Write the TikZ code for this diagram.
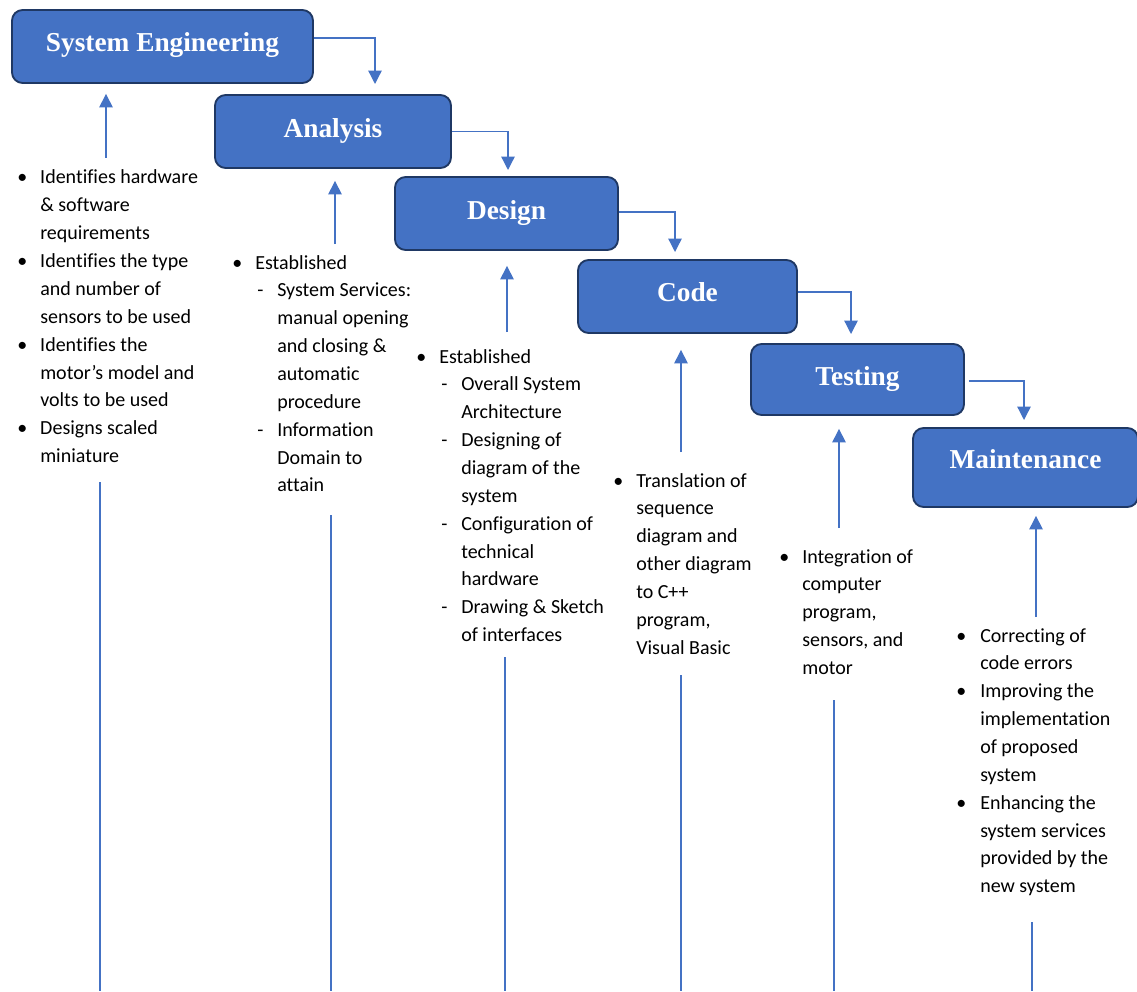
\documentclass[tikz,border=0pt]{standalone}
\usepackage{fontspec}
\setmainfont{Carlito}[Ligatures=NoCommon]
\newfontfamily\titlefont{Liberation Serif}
\usetikzlibrary{arrows.meta}
\definecolor{boxfill}{HTML}{4472C4}
\definecolor{boxline}{HTML}{1F3864}
\definecolor{arrowblue}{HTML}{4472C4}
\tikzset{
  phase/.style={draw=boxline, fill=boxfill, line width=1.4pt, rounded corners=8pt,
    text=white, font=\titlefont\bfseries\fontsize{20.5pt}{24pt}\selectfont,
    inner sep=0pt, text height=14pt, text depth=4pt},
  flow/.style={draw=arrowblue, line width=1pt, -{Triangle[width=10pt,length=10pt]}},
  trail/.style={draw=arrowblue, line width=0.8pt},
  notes/.style={anchor=base west, inner sep=0pt, text=black,
    font=\fontsize{15pt}{20.9pt}\selectfont},
}
\begin{document}
\begin{tikzpicture}[x=0.75pt,y=-0.75pt]
\useasboundingbox (0,0) rectangle (1137,991);

% phase boxes
\node[phase, minimum width=225.75pt, minimum height=54.75pt] (se) at (162.5,46.5) {\raisebox{1.2pt}{System Engineering}};
\node[phase, minimum width=177pt,    minimum height=54.75pt] (an) at (333,131.5) {\raisebox{0.8pt}{Analysis}};
\node[phase, minimum width=167.25pt, minimum height=54.75pt] (de) at (506.5,213.5) {\raisebox{0.8pt}{Design}};
\node[phase, minimum width=164.25pt, minimum height=54.75pt] (co) at (687.5,296.5) {\raisebox{1.5pt}{Code}};
\node[phase, minimum width=159.75pt, minimum height=53.25pt] (te) at (857.5,379.5) {\raisebox{0.8pt}{Testing}};
\node[phase, minimum width=168.75pt, minimum height=59.25pt] (ma) at (1025.5,467.5) {\raisebox{4.5pt}{Maintenance}};

% step connectors
\coordinate (anIn) at (375,84);
\coordinate (deIn) at (508,170);
\coordinate (coIn) at (675,252);
\coordinate (teIn) at (851,334);
\coordinate (maIn) at (1024,420);
\draw[flow] ([yshift=6.4pt]se.east) -| (anIn);
\draw[flow] (an.east) -| (deIn);
\draw[flow] ([yshift=1.1pt]de.east) -| (coIn);
\draw[flow] ([yshift=3.4pt]co.east) -| (teIn);
\draw[flow] ([xshift=3pt,yshift=-1.1pt]te.east) -| (maIn);

% notes
\node[notes] (seNotes) at (17,184) {\begin{tabular}[t]{@{}p{17.25pt}@{}l@{}}
\textbullet & Identifies hardware\\
 & \& software\\
 & requirements\\
\textbullet & Identifies the type\\
 & and number of\\
 & sensors to be used\\
\textbullet & Identifies the\\
 & motor’s model and\\
 & volts to be used\\
\textbullet & Designs scaled\\
 & miniature
\end{tabular}};

\node[notes] (anNotes) at (232,269) {\begin{tabular}[t]{@{}p{17.25pt}@{}p{16.5pt}@{}l@{}}
\textbullet & \multicolumn{2}{@{}l@{}}{Established}\\
 & \hspace{1.5pt}- & System Services:\\
 & & manual opening\\
 & & and closing \&\\
 & & automatic\\
 & & procedure\\
 & \hspace{1.5pt}- & Information\\
 & & Domain to\\
 & & attain
\end{tabular}};

\node[notes] (deNotes) at (416,363) {\begin{tabular}[t]{@{}p{17.25pt}@{}p{16.5pt}@{}l@{}}
\textbullet & \multicolumn{2}{@{}l@{}}{Established}\\
 & \hspace{1.5pt}- & Overall System\\
 & & Architecture\\
 & \hspace{1.5pt}- & Designing of\\
 & & diagram of the\\
 & & system\\
 & \hspace{1.5pt}- & Configuration of\\
 & & technical\\
 & & hardware\\
 & \hspace{1.5pt}- & Drawing \& Sketch\\
 & & of interfaces
\end{tabular}};

\node[notes] (coNotes) at (613,487) {\begin{tabular}[t]{@{}p{17.25pt}@{}l@{}}
\textbullet & Translation of\\
 & sequence\\
 & diagram and\\
 & other diagram\\
 & to C++\\
 & program,\\
 & Visual Basic
\end{tabular}};

\node[notes] (teNotes) at (779,563) {\begin{tabular}[t]{@{}p{17.25pt}@{}l@{}}
\textbullet & Integration of\\
 & computer\\
 & program,\\
 & sensors, and\\
 & motor
\end{tabular}};

\node[notes] (maNotes) at (956,642) {\begin{tabular}[t]{@{}p{18pt}@{}l@{}}
\textbullet & Correcting of\\
 & code errors\\
\textbullet & Improving the\\
 & implementation\\
 & of proposed\\
 & system\\
\textbullet & Enhancing the\\
 & system services\\
 & provided by the\\
 & new system
\end{tabular}};

% feedback arrows
\coordinate (seFb) at (106,158);
\coordinate (anFb) at (335,244);
\coordinate (deFb) at (507,332);
\coordinate (coFb) at (681,452);
\coordinate (teFb) at (839,528);
\coordinate (maFb) at (1036,617);
\draw[flow] (seFb) -- ([yshift=-7.5pt]se.south -| seFb);
\draw[flow] (anFb) -- ([yshift=-9pt]an.south -| anFb);
\draw[flow] (deFb) -- ([yshift=-11.25pt]de.south -| deFb);
\draw[flow] (coFb) -- ([yshift=-12pt]co.south -| coFb);
\draw[flow] (teFb) -- ([yshift=-9.75pt]te.south -| teFb);
\draw[flow] (maFb) -- ([yshift=-6pt]ma.south -| maFb);

% trailing lines
\coordinate (seT1) at (100,482);  \coordinate (seT2) at (100,991);
\coordinate (anT1) at (331,515);  \coordinate (anT2) at (331,991);
\coordinate (deT1) at (505,657);  \coordinate (deT2) at (505,991);
\coordinate (coT1) at (681,675);  \coordinate (coT2) at (681,991);
\coordinate (teT1) at (834,700);  \coordinate (teT2) at (834,991);
\coordinate (maT1) at (1032,922); \coordinate (maT2) at (1032,991);
\draw[trail] (seT1) -- (seT2);
\draw[trail] (anT1) -- (anT2);
\draw[trail] (deT1) -- (deT2);
\draw[trail] (coT1) -- (coT2);
\draw[trail] (teT1) -- (teT2);
\draw[trail] (maT1) -- (maT2);
\end{tikzpicture}
\end{document}
